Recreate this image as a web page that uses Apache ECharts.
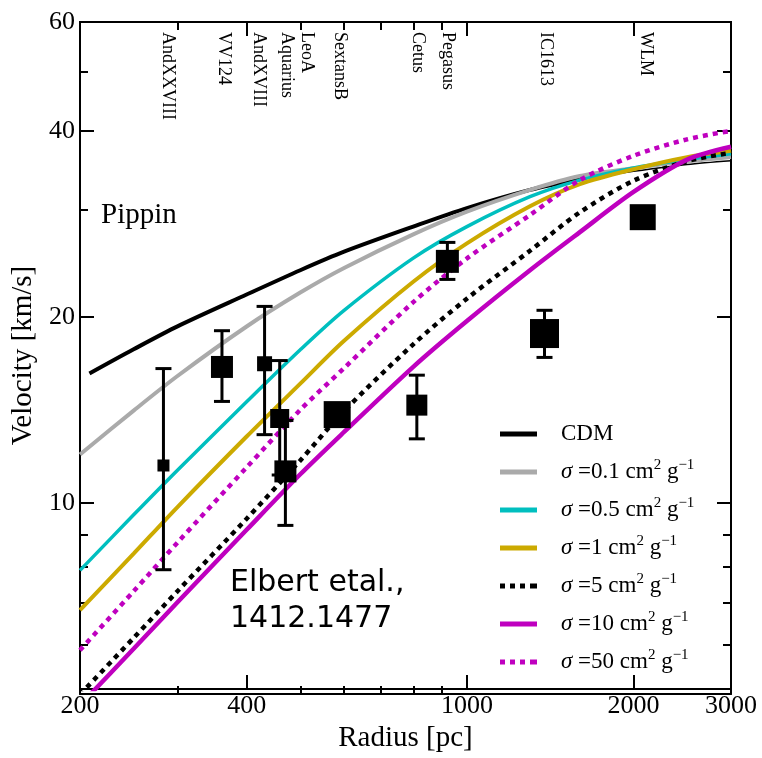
<!DOCTYPE html>
<html><head><meta charset="utf-8">
<script src="https://cdn.jsdelivr.net/npm/echarts@6/dist/echarts.min.js"></script>
<style>html,body{margin:0;padding:0;background:#fff}#chart{width:762px;height:758px}</style>
</head><body><div id="chart"></div>
<script>
// ---------- data ----------
const radii = [200, 250, 300, 400, 500, 600, 800, 1000, 1300, 1600, 2000, 2500, 3000];
const cdmRadii = [208, 250, 300, 400, 500, 600, 800, 1000, 1300, 1600];
const cdmV = [16.2, 17.73, 19.31, 21.74, 23.8, 25.5, 28.0, 30.0, 32.1, 33.4];
const cdmTailRadii = [1600, 2000, 2500, 3000];
const cdmTailV = [33.4, 34.4, 35.3, 35.8];
const sigma01 = [11.98, 14.11, 16.05, 19.3, 21.9, 24.0, 27.2, 29.6, 32.1, 33.8, 34.8, 35.7, 36.3];
const sigma05 = [7.78, 9.57, 11.3, 14.58, 17.7, 20.5, 24.9, 28.0, 31.3, 33.3, 34.85, 35.97, 36.73];
const sigma1 = [6.71, 8.28, 9.85, 12.81, 15.6, 18.3, 22.8, 26.3, 30.2, 32.8, 34.67, 36.25, 37.13];
const sigma5 = [4.9, 6.05, 7.2, 9.43, 11.72, 14.09, 18.06, 21.41, 25.59, 29.53, 33.22, 35.73, 36.86];
const sigma10 = [4.71, 5.81, 6.91, 9.05, 11.13, 13.03, 16.61, 19.7, 23.8, 27.43, 31.86, 35.93, 37.7];
const sigma50 = [5.78, 7.2, 8.63, 11.42, 14.15, 16.53, 21.13, 24.87, 29.24, 33.3, 36.46, 38.76, 40.0];

const galaxyNames = ['AndXXVIII', 'VV124', 'AndXVIII', 'Aquarius', 'LeoA', 'SextansB', 'Cetus', 'Pegasus', 'IC1613', 'WLM'];
const galaxyRadius = [283, 361, 431, 459, 470, 583, 812, 922, 1381, 2078];
const galaxyV = [11.5, 16.6, 16.8, 13.7, 11.25, 13.9, 14.4, 24.6, 18.8, 29.0];
const galaxyErrLow = [7.8, 14.6, 12.9, 11.1, 9.2, null, 12.7, 23.0, 17.2, null];
const galaxyErrHigh = [16.5, 19.0, 20.8, 17.0, 13.6, null, 16.1, 26.4, 20.5, null];
const galaxyLabelRadius = [288, 364, 420, 472, 513, 590, 816, 925, 1386, 2100];
const markerSize = [12, 22, 15, 19, 22, 27, 21, 23, 29, 26];

const xTickLabels = [200, 400, 1000, 2000, 3000];
const xMajorTicks = [400, 1000, 2000];
const xMinorTicks = [300, 500, 600, 700, 800, 900];
const yTickLabels = [10, 20, 40, 60];
const yMajorTicks = [10, 20, 40];
const yMinorTicks = [6, 7, 8, 9, 30, 50];

const legendNames = ['CDM', 's0.1', 's0.5', 's1', 's5', 's10', 's50'];
const legendTexts = ['CDM',
  '{i|σ} =0.1 cm{sup|2} g{sup|−1}',
  '{i|σ} =0.5 cm{sup|2} g{sup|−1}',
  '{i|σ} =1 cm{sup|2} g{sup|−1}',
  '{i|σ} =5 cm{sup|2} g{sup|−1}',
  '{i|σ} =10 cm{sup|2} g{sup|−1}',
  '{i|σ} =50 cm{sup|2} g{sup|−1}'];

// ---------- chart ----------
const SERIF = '"Liberation Serif", "DejaVu Serif", serif';
const pair = (xs, ys) => xs.map((x, i) => [x, ys[i]]);
const SOLID_ICON = 'path://M0,0h37v5h-37z';
const DOT_ICON = 'path://M0,0h5v5h-5z M10,0h5v5h-5z M20,0h5v5h-5z M30,0h5v5h-5z M35,0h2v5h-2z';

function lineSeries(name, data, color, width, dash, z) {
  return {
    type: 'line', name, data, xAxisIndex: 0, yAxisIndex: 0,
    showSymbol: false, symbol: 'none', smooth: 0.3,
    clip: true, silent: true, z: z,
    lineStyle: { color, width, type: dash || 'solid', cap: 'butt' },
    itemStyle: { color }
  };
}

function xAxisDef(grid, pos, ticks, len, labels, withName) {
  return {
    type: 'log', logBase: 10, min: 200, max: 3000, gridIndex: grid, position: pos,
    splitLine: { show: false },
    axisLine: { show: true, lineStyle: { color: '#000', width: 2 } },
    axisTick: { show: true, inside: true, length: len, customValues: ticks, lineStyle: { color: '#000', width: 2 } },
    axisLabel: labels ? { show: true, customValues: labels, margin: 4, color: '#000',
      fontFamily: SERIF, fontSize: 26, formatter: v => String(Math.round(v)) } : { show: false },
    name: withName ? 'Radius [pc]' : '', nameLocation: 'middle', nameGap: 31,
    nameTextStyle: { fontFamily: SERIF, fontSize: 29, color: '#000' }
  };
}
function yAxisDef(grid, pos, ticks, len, labels, withName) {
  return {
    type: 'log', logBase: 10, min: 5, max: 60, gridIndex: grid, position: pos,
    splitLine: { show: false },
    axisLine: { show: true, lineStyle: { color: '#000', width: 2 } },
    axisTick: { show: true, inside: true, length: len, customValues: ticks, lineStyle: { color: '#000', width: 2 } },
    axisLabel: labels ? { show: true, customValues: labels, margin: 5, color: '#000',
      fontFamily: SERIF, fontSize: 26, formatter: v => String(Math.round(v)) } : { show: false },
    name: withName ? 'Velocity [km/s]' : '', nameLocation: 'middle', nameGap: 36,
    nameTextStyle: { fontFamily: SERIF, fontSize: 29, color: '#000' }
  };
}

const gridPos = { left: 80, top: 22, width: 651, height: 672 };

const option = {
  animation: false,
  backgroundColor: '#fff',
  grid: [Object.assign({}, gridPos), Object.assign({}, gridPos)],
  xAxis: [
    xAxisDef(0, 'bottom', xMajorTicks, 14, xTickLabels, true),
    xAxisDef(0, 'top', xMajorTicks, 14, null, false),
    xAxisDef(1, 'bottom', xMinorTicks, 8, null, false),
    xAxisDef(1, 'top', xMinorTicks, 8, null, false)
  ],
  yAxis: [
    yAxisDef(0, 'left', yMajorTicks, 14, yTickLabels, true),
    yAxisDef(0, 'right', yMajorTicks, 14, null, false),
    yAxisDef(1, 'left', yMinorTicks, 8, null, false),
    yAxisDef(1, 'right', yMinorTicks, 8, null, false)
  ],
  legend: {
    data: legendNames.map((n, i) => ({ name: n, icon: (i === 4 || i === 6) ? DOT_ICON : SOLID_ICON })),
    orient: 'vertical', left: 495, top: 415,
    itemWidth: 37, itemHeight: 5, itemGap: 10, selectedMode: false,
    formatter: name => legendTexts[legendNames.indexOf(name)],
    textStyle: {
      color: '#000', fontFamily: SERIF, fontSize: 23, lineHeight: 28, padding: [0, 0, 0, 19],
      rich: {
        i: { fontFamily: SERIF, fontSize: 23, fontStyle: 'italic', lineHeight: 28, color: '#000' },
        sup: { fontFamily: SERIF, fontSize: 15, lineHeight: 15, verticalAlign: 'top', color: '#000' }
      }
    }
  },
  graphic: [
    { type: 'text', x: 101, y: 215, style: { text: 'Pippin', font: '29px "Liberation Serif"', fill: '#000', align: 'left', verticalAlign: 'middle' } },
    { type: 'text', x: 230, y: 583, style: { text: 'Elbert etal.,', font: '30px "DejaVu Sans"', fill: '#000', align: 'left', verticalAlign: 'middle' } },
    { type: 'text', x: 230, y: 619, style: { text: '1412.1477', font: '30px "DejaVu Sans"', fill: '#000', align: 'left', verticalAlign: 'middle' } }
  ],
  series: [
    lineSeries('CDM', pair(cdmRadii, cdmV), '#000000', 4, 'solid', 2),
    lineSeries('CDM-tail', pair(cdmTailRadii, cdmTailV), '#000000', 1.5, 'solid', 2),
    lineSeries('s0.1', pair(radii, sigma01), '#aaaaaa', 4, 'solid', 3),
    lineSeries('s0.5', pair(radii, sigma05), '#00bfbf', 3.5, 'solid', 4),
    lineSeries('s1', pair(radii, sigma1), '#ccaa00', 4, 'solid', 5),
    lineSeries('s5', pair(radii, sigma5), '#000000', 4.5, [5, 5], 6),
    lineSeries('s10', pair(radii, sigma10), '#bf00bf', 4.5, 'solid', 7),
    lineSeries('s50', pair(radii, sigma50), '#bf00bf', 4.5, [5, 5], 8),
    {
      type: 'custom', name: 'errors', xAxisIndex: 0, yAxisIndex: 0, z: 10, silent: true,
      data: galaxyRadius.map((r, i) => galaxyErrLow[i] == null ? null : [r, galaxyErrLow[i], galaxyErrHigh[i]]).filter(d => d),
      encode: { x: 0, y: [1, 2] },
      renderItem: function (params, api) {
        const lo = api.coord([api.value(0), api.value(1)]);
        const hi = api.coord([api.value(0), api.value(2)]);
        const x = lo[0], h = 8;
        const st = { stroke: '#000', lineWidth: 3 };
        return { type: 'group', children: [
          { type: 'line', shape: { x1: x, y1: lo[1], x2: x, y2: hi[1] }, style: st },
          { type: 'line', shape: { x1: x - h, y1: lo[1], x2: x + h, y2: lo[1] }, style: st },
          { type: 'line', shape: { x1: x - h, y1: hi[1], x2: x + h, y2: hi[1] }, style: st }
        ] };
      }
    },
    {
      type: 'scatter', name: 'galaxies', xAxisIndex: 0, yAxisIndex: 0, z: 11, silent: true,
      symbol: 'rect',
      data: galaxyRadius.map((r, i) => ({ value: [r, galaxyV[i]], symbolSize: markerSize[i] })),
      itemStyle: { color: '#000', opacity: 1 }
    },
    {
      type: 'custom', name: 'galaxyNames', xAxisIndex: 0, yAxisIndex: 0, z: 12, silent: true,
      data: galaxyLabelRadius.map(r => [r, 60]),
      encode: { x: 0, y: 1 },
      renderItem: function (params, api) {
        const p = api.coord([api.value(0), api.value(1)]);
        return { type: 'text', x: p[0], y: params.coordSys.y + 10, rotation: -Math.PI / 2,
          style: { text: galaxyNames[params.dataIndex], font: '18px "Liberation Serif"', fill: '#000',
            align: 'left', verticalAlign: 'middle' } };
      }
    }
  ]
};

const chart = echarts.init(document.getElementById('chart'), null, { renderer: 'canvas' });
chart.setOption(option);
</script>
</body></html>
